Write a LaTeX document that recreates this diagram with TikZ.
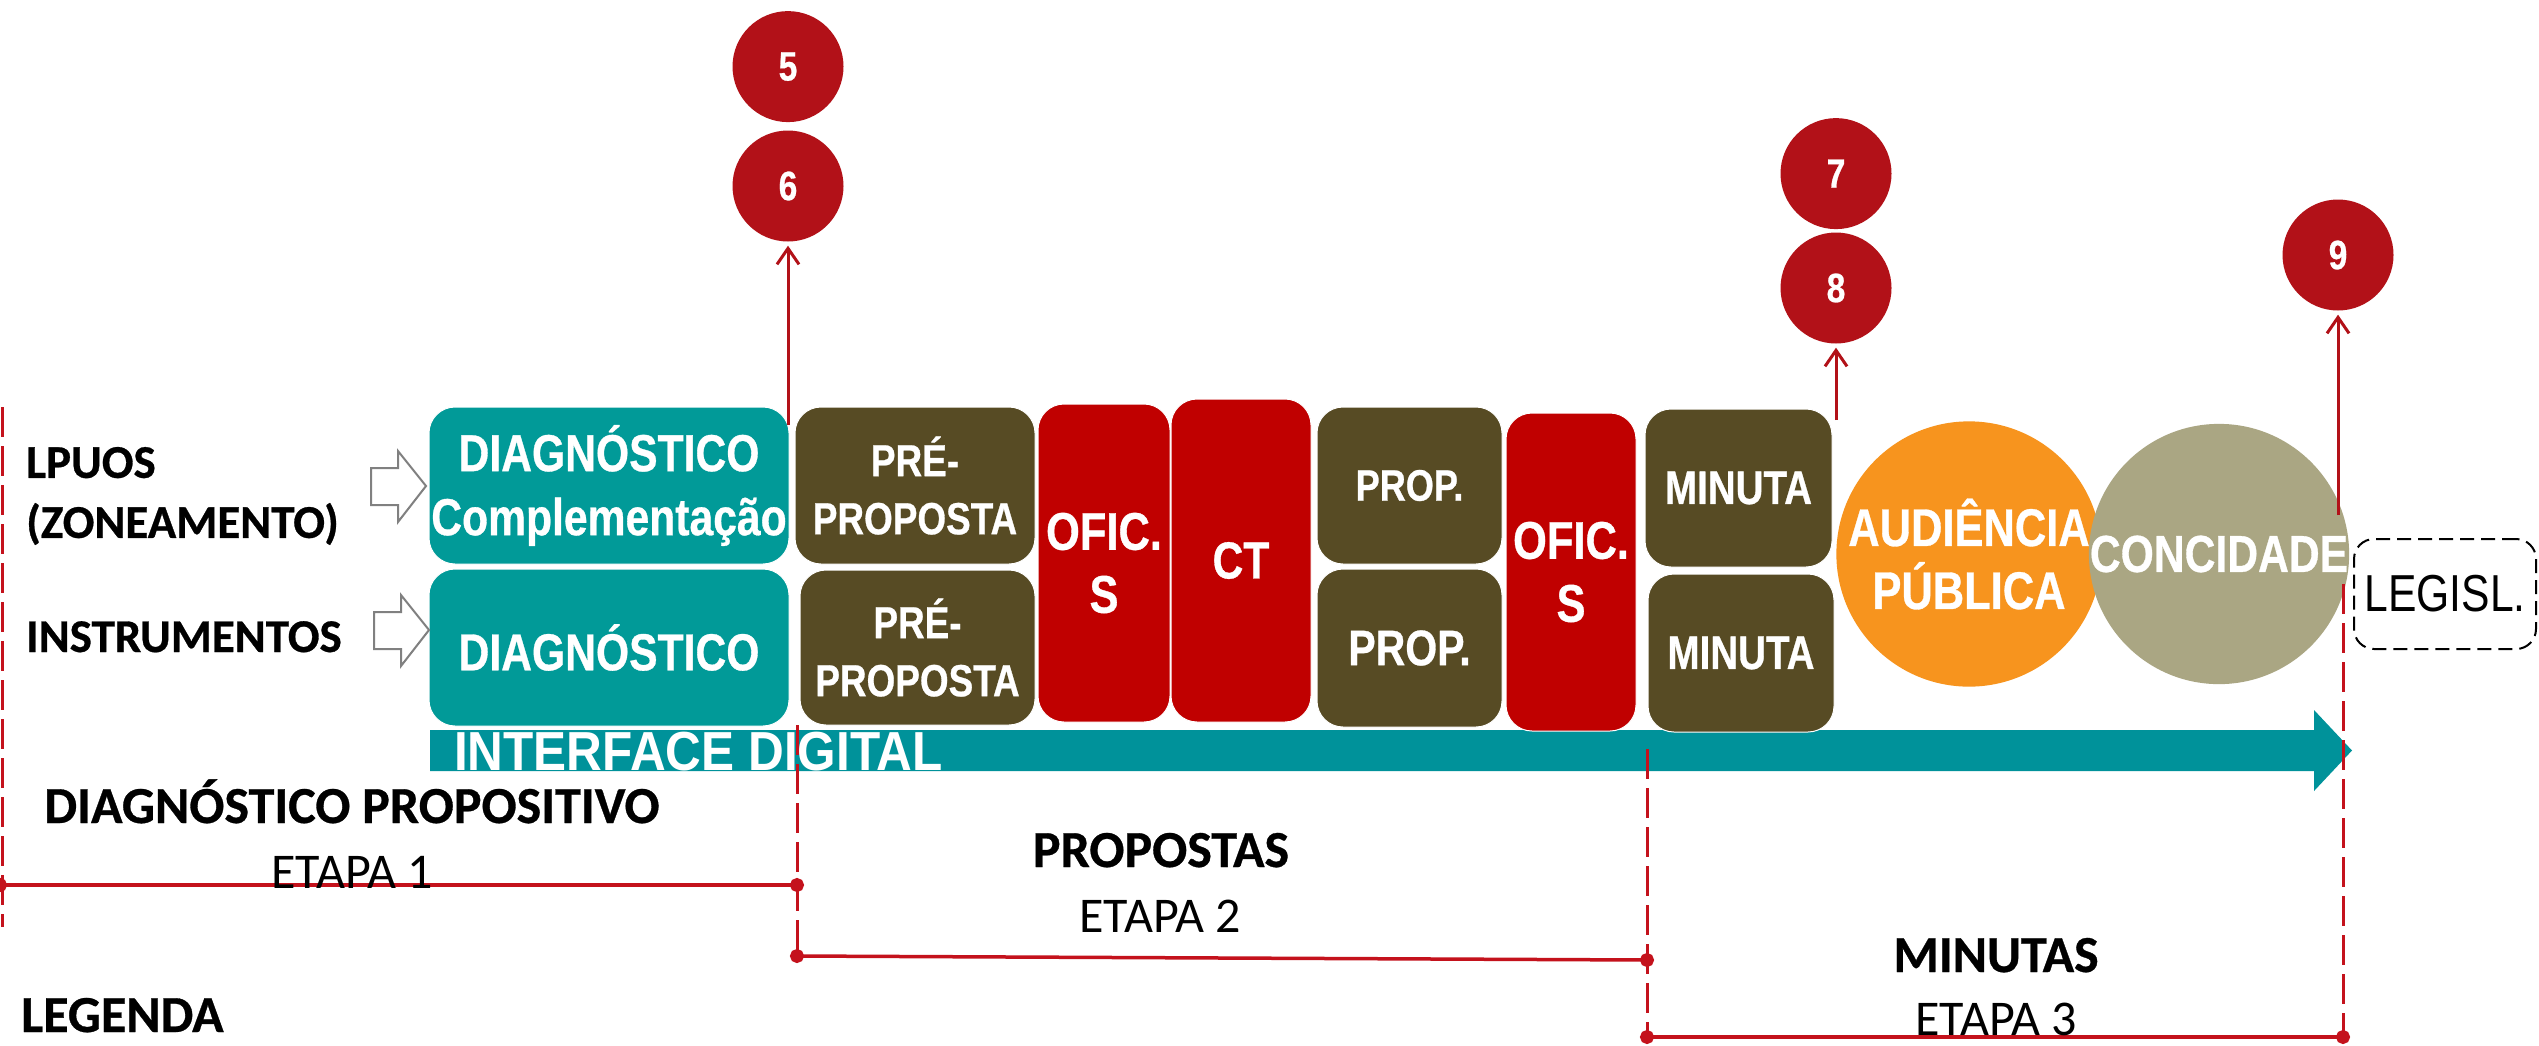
\documentclass[tikz,border=0pt]{standalone}
\usepackage{fontspec}
\setmainfont[BoldFeatures={FakeBold=0.6}]{Carlito}
\newfontfamily\narrowfont[FakeStretch=0.82, BoldFeatures={FakeBold=0.6}]{Liberation Sans}
\newfontfamily\barfont[FakeStretch=0.9]{Liberation Sans}
\usetikzlibrary{positioning, arrows.meta}

\definecolor{diagteal}{HTML}{019A98}
\definecolor{barteal}{HTML}{00929A}
\definecolor{propolive}{HTML}{574B24}
\definecolor{oficred}{HTML}{C00000}
\definecolor{numred}{HTML}{B21118}
\definecolor{audorange}{HTML}{F7941E}
\definecolor{conckhaki}{HTML}{AAA683}
\definecolor{stagered}{HTML}{C4121C}

\newcommand\fsz[2]{\fontsize{#1}{#2}\selectfont}

\begin{document}
\begin{tikzpicture}[x=1pt, y=-1pt,
  box/.style={draw=white, line width=1pt, rounded corners=26pt, align=center,
    text=white, inner sep=0pt},
  diag/.style={box, fill=diagteal, minimum width=360pt, minimum height=157pt},
  prop/.style={box, fill=propolive},
  ofic/.style={box, fill=oficred},
  bignum/.style={circle, fill=numred, minimum size=111pt, inner sep=0pt,
    text=white, font=\narrowfont\bfseries\fsz{41}{41}},
  round/.style={circle, minimum size=248pt, inner sep=0pt, align=center,
    text=white},
  sidetext/.style={inner sep=0pt, align=left, font=\bfseries\fsz{47}{60}},
  stagetitle/.style={inner sep=0pt, anchor=base, font=\bfseries\fsz{52}{60}},
  stagesub/.style={inner sep=0pt, anchor=base, font=\fsz{50}{60}},
  numarrow/.style={draw=numred, line width=3pt,
    -{Straight Barb[length=16pt, width=22pt]}, shorten >=4pt},
  inarrow/.style={draw=gray, fill=white, line width=2pt},
  stagedash/.style={draw=stagered, line width=3pt, dash pattern=on 30pt off 9pt},
  stageline/.style={draw=stagered, line width=3.5pt,
    {Circle[length=14pt, width=14pt]}-{Circle[length=14pt, width=14pt]},
    shorten <=-7pt, shorten >=-7pt}
]

  \fill[white] (0,0) rectangle (2539,1045);
  \useasboundingbox (0,0) rectangle (2539,1045);

  % timeline bar
  \fill[barteal] (430,730) -- (2314,730) -- (2314,710) -- (2352,750.5)
    -- (2314,791) -- (2314,771) -- (430,771) -- cycle;
  \node[anchor=base west, inner sep=0pt, text=white,
    font=\barfont\bfseries\fsz{55}{55}] (iface) at (454,770) {INTERFACE DIGITAL};

  % etapa 1
  \node[diag, font=\narrowfont\bfseries\fsz{52}{64}] (diag1) at (609,485.5)
    {DIAGNÓSTICO\\Complementação};
  \node[diag, font=\narrowfont\bfseries\fsz{52}{64}, below=4pt of diag1] (diag2)
    {DIAGNÓSTICO};

  % etapa 2
  \node[prop, minimum width=240pt, minimum height=157pt,
    font=\narrowfont\bfseries\fsz{45}{58}, right=5pt of diag1] (pre1) {PRÉ-\\PROPOSTA};
  \node[prop, minimum width=235pt, minimum height=155pt,
    font=\narrowfont\bfseries\fsz{45}{58}, right=10pt of diag2] (pre2) {PRÉ-\\PROPOSTA};
  \node[ofic, minimum width=132pt, minimum height=318pt,
    font=\narrowfont\bfseries\fsz{53}{63}] (ofic1) at (1104,563) {OFIC.\\S};
  \node[ofic, minimum width=140pt, minimum height=323pt,
    font=\narrowfont\bfseries\fsz{52}{60}] (ct) at (1241,560.5) {CT};
  \node[prop, minimum width=185pt, minimum height=157pt,
    font=\narrowfont\bfseries\fsz{44}{50}] (prop1) at (1409.5,485.5) {PROP.};
  \node[prop, minimum width=185pt, minimum height=158pt,
    font=\narrowfont\bfseries\fsz{50}{56}, below=4pt of prop1] (prop2) {PROP.};
  \node[ofic, minimum width=130pt, minimum height=318pt,
    font=\narrowfont\bfseries\fsz{53}{63}] (ofic2) at (1571,572) {OFIC.\\S};

  % etapa 3
  \node[prop, minimum width=187pt, minimum height=158pt,
    font=\narrowfont\bfseries\fsz{47}{52}] (min1) at (1738.5,488) {MINUTA};
  \node[prop, minimum width=186pt, minimum height=158pt,
    font=\narrowfont\bfseries\fsz{47}{52}] (min2) at (1741,653) {MINUTA};
  \node[round, fill=audorange, font=\narrowfont\bfseries\fsz{53}{63}] (aud)
    at (1969,554) {AUDIÊNCIA\\PÚBLICA};
  \node[round, fill=conckhaki, font=\narrowfont\bfseries\fsz{52}{60}] (conc)
    at (2219,554) {CONCIDADE};
  \node[draw=black, line width=2pt, dash pattern=on 14pt off 7pt,
    rounded corners=20pt, minimum width=182pt, minimum height=110pt,
    inner sep=0pt, font=\narrowfont\fsz{52}{52}] (legisl) at (2445,594) {LEGISL.};

  % numbered circles
  \node[bignum] (c6) at (788,186) {6};
  \node[bignum, above=8pt of c6] (c5) {5};
  \node[bignum] (c8) at (1836,288) {8};
  \node[bignum, above=3pt of c8] (c7) {7};
  \node[bignum] (c9) at (2338,255) {9};

  \coordinate (a6) at (788,425);
  \coordinate (a8) at (1836,420);
  \coordinate (a9) at (2338,515);
  \draw[numarrow] (a6) -- (c6);
  \draw[numarrow] (a8) -- (c8);
  \draw[numarrow] (a9) -- (c9);

  % input arrows
  \foreach \x/\y in {371/486, 374/630}
    \draw[inarrow] (\x,\y-18) -- ++(27,0) -- ++(0,-17) -- ++(28,35)
      -- ++(-28,36) -- ++(0,-17) -- ++(-27,0) -- cycle;

  % stage limits
  \coordinate (d0a) at (2,407);   \coordinate (d0b) at (2,927);
  \coordinate (d1a) at (797,725); \coordinate (d1b) at (797,956);
  \coordinate (d2a) at (1647,749); \coordinate (d2b) at (1647,1037);
  \coordinate (d3a) at (2343,584); \coordinate (d3b) at (2343,1037);
  \coordinate (s1a) at (0,885);   \coordinate (s1b) at (797,885);
  \coordinate (s2b) at (1647,960);

  \draw[stagedash] (d0a) -- (d0b);
  \draw[stagedash] (d1a) -- (d1b);
  \draw[stagedash] (d2a) -- (d2b);
  \draw[stagedash] (d3a) -- (d3b);

  \draw[stageline] (s1a) -- (s1b);
  \draw[stageline] (d1b) -- (s2b);
  \draw[stageline] (d2b) -- (d3b);

  % texts
  \node[sidetext, anchor=west] (lpuos) at (26,496) {LPUOS\\(ZONEAMENTO)};
  \node[sidetext, anchor=base west] (instr) at (26,652) {INSTRUMENTOS};

  \node[stagetitle] (t1) at (352,823) {DIAGNÓSTICO PROPOSITIVO};
  \node[stagesub] (e1) at (352,888) {ETAPA 1};
  \node[stagetitle] (t2) at (1161,867) {PROPOSTAS};
  \node[stagesub] (e2) at (1160,932) {ETAPA 2};
  \node[stagetitle] (t3) at (1996,972) {MINUTAS};
  \node[stagesub] (e3) at (1996,1035) {ETAPA 3};
  \node[stagetitle, anchor=base west] (leg) at (21,1032) {LEGENDA};

\end{tikzpicture}
\end{document}
